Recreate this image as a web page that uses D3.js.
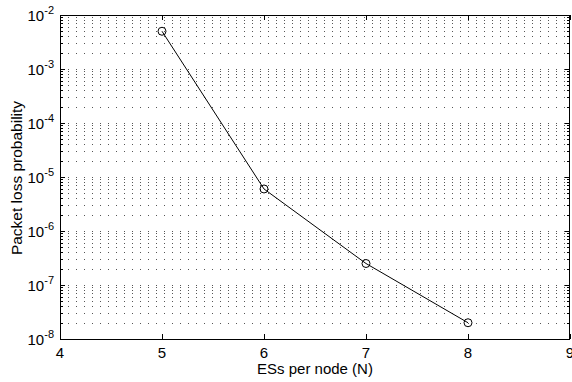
<!DOCTYPE html>
<html>
<head>
<meta charset="utf-8">
<script src="https://cdn.jsdelivr.net/npm/d3@7"></script>
<style>
  body { margin: 0; background: #fff; }
  text { font-family: "Liberation Sans", Arial, sans-serif; fill: #000; }
</style>
</head>
<body>
<div id="chart"></div>
<script>
// data
const nodes = [5, 6, 7, 8];
const lossProb = [5e-3, 6e-6, 2.5e-7, 2e-8];
const xTicks = [4, 5, 6, 7, 8, 9];
const yExponents = [-8, -7, -6, -5, -4, -3, -2];

const W = 572, H = 382;
const margin = { top: 15, right: 2, bottom: 43, left: 60 };
const width = W - margin.left - margin.right;
const height = H - margin.top - margin.bottom;

const svg = d3.select('#chart').append('svg')
    .attr('width', W).attr('height', H);
const g = svg.append('g')
    .attr('transform', `translate(${margin.left}, ${margin.top})`);

const x = d3.scaleLinear().domain([4, 9]).range([0, width]);
const y = d3.scaleLog().domain([1e-8, 1e-2]).range([height, 0]);

// minor + major log values for grid and ticks
const minorVals = [];
yExponents.slice(0, -1).forEach(e => {
    for (let k = 2; k <= 9; k++) minorVals.push(k * Math.pow(10, e));
});
const majorVals = yExponents.map(e => Math.pow(10, e));

// dotted horizontal grid
g.append('g').selectAll('line')
    .data(minorVals.concat(majorVals.slice(1, -1)))
    .join('line')
    .attr('x1', 0).attr('x2', width)
    .attr('y1', d => Math.round(y(d)) + 0.5).attr('y2', d => Math.round(y(d)) + 0.5)
    .style('stroke', '#555')
    .style('stroke-width', 1)
    .style('stroke-dasharray', '1 7');

// inward ticks on all four sides
const ticks = g.append('g').style('stroke', '#000').style('stroke-width', 1);
xTicks.forEach(v => {
    const px = Math.round(x(v)) + 0.5;
    ticks.append('line').attr('x1', px).attr('x2', px).attr('y1', height).attr('y2', height - 5);
    ticks.append('line').attr('x1', px).attr('x2', px).attr('y1', 0).attr('y2', 5);
});
majorVals.forEach(v => {
    const py = Math.round(y(v)) + 0.5;
    ticks.append('line').attr('x1', 0).attr('x2', 5).attr('y1', py).attr('y2', py);
    ticks.append('line').attr('x1', width).attr('x2', width - 5).attr('y1', py).attr('y2', py);
});
minorVals.forEach(v => {
    const py = Math.round(y(v)) + 0.5;
    ticks.append('line').attr('x1', 0).attr('x2', 3).attr('y1', py).attr('y2', py);
    ticks.append('line').attr('x1', width).attr('x2', width - 3).attr('y1', py).attr('y2', py);
});

// axes box
g.append('rect')
    .attr('x', 0.5).attr('y', 0.5)
    .attr('width', width - 1).attr('height', height)
    .style('fill', 'none').style('stroke', '#000').style('stroke-width', 1);

// x tick labels
g.append('g').selectAll('text')
    .data(xTicks)
    .join('text')
    .attr('x', d => x(d))
    .attr('y', height + 19)
    .attr('text-anchor', 'middle')
    .style('font-size', '15px')
    .text(d => d);

// y tick labels, 10 with superscript exponent
const yl = g.append('g').selectAll('text')
    .data(yExponents)
    .join('text')
    .attr('x', -6)
    .attr('y', d => y(Math.pow(10, d)) + 6)
    .attr('text-anchor', 'end')
    .style('font-size', '15px');
yl.append('tspan').text('10');
yl.append('tspan')
    .attr('dy', -7)
    .style('font-size', '11px')
    .text(d => '-' + (-d));

// data line and markers
const line = d3.line()
    .x((d, i) => x(nodes[i]))
    .y(d => y(d));
g.append('path')
    .datum(lossProb)
    .attr('d', line)
    .style('fill', 'none')
    .style('stroke', '#000')
    .style('stroke-width', 1);
g.append('g').selectAll('circle')
    .data(lossProb)
    .join('circle')
    .attr('cx', (d, i) => x(nodes[i]))
    .attr('cy', d => y(d))
    .attr('r', 4)
    .style('fill', 'none')
    .style('stroke', '#000')
    .style('stroke-width', 1);

// axis titles
svg.append('text')
    .attr('x', margin.left + width / 2)
    .attr('y', H - 8)
    .attr('text-anchor', 'middle')
    .style('font-size', '15px')
    .text('ESs per node (N)');
svg.append('text')
    .attr('transform', `translate(22, ${margin.top + height / 2 + 1}) rotate(-90)`)
    .attr('text-anchor', 'middle')
    .style('font-size', '15.5px')
    .text('Packet loss probability');
</script>
</body>
</html>
